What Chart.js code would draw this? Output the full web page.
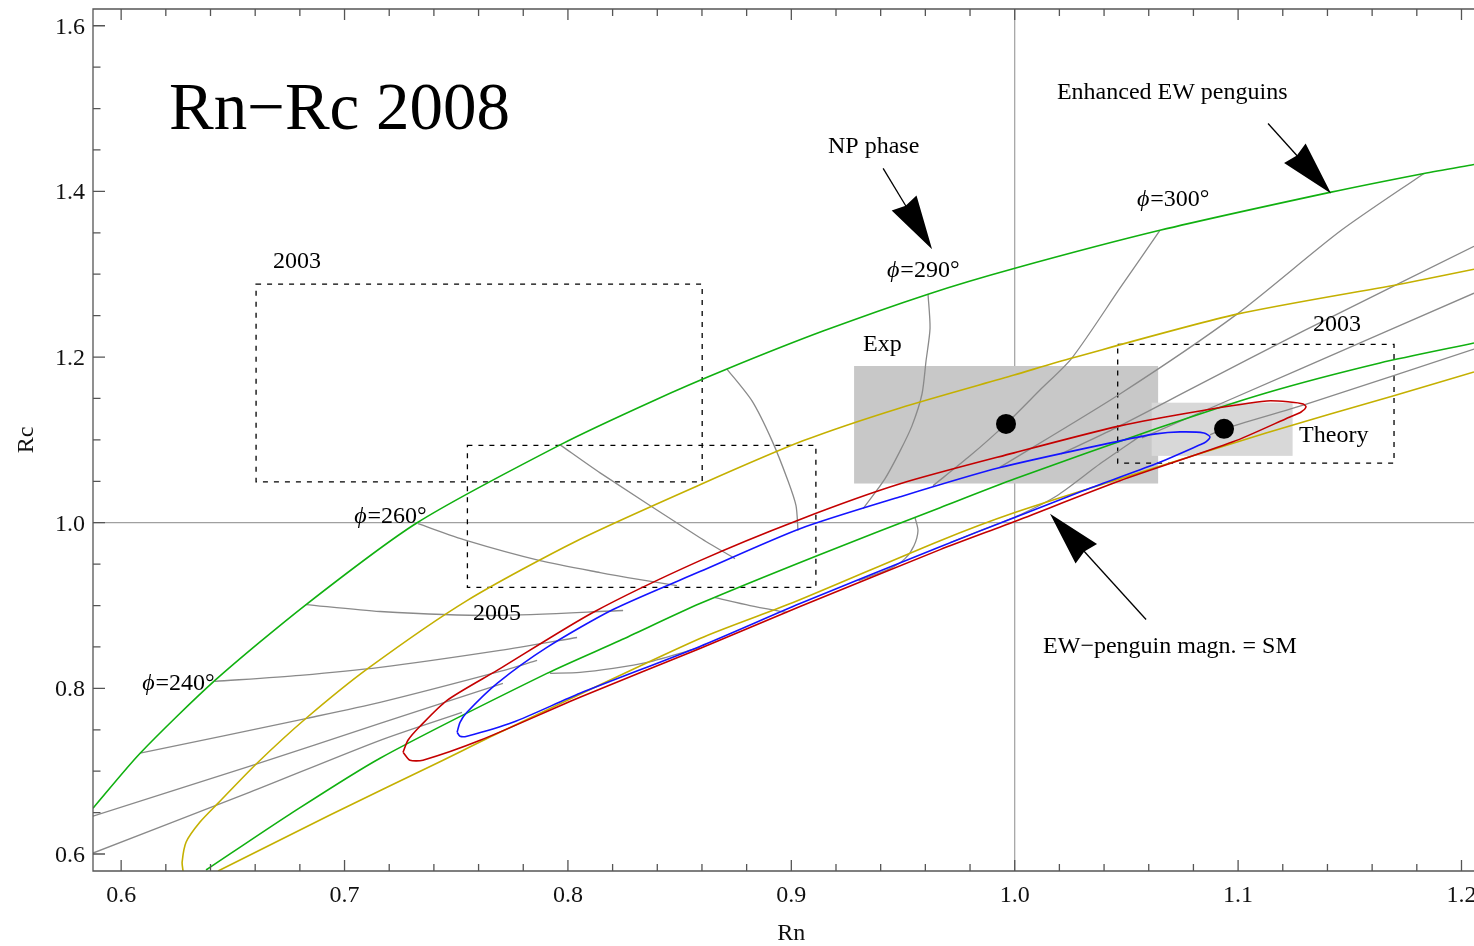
<!DOCTYPE html>
<html>
<head>
<meta charset="utf-8">
<script src="https://cdn.jsdelivr.net/npm/chart.js@4.4.0/dist/chart.umd.min.js"></script>
<style>
  html, body { margin: 0; padding: 0; background: #fff; overflow: hidden; }
  #wrap { width: 1474px; height: 946px; overflow: hidden; }
  canvas { display: block; }
</style>
</head>
<body>
<div id="wrap"><canvas id="chart" width="1474" height="946" style="width:1474px;height:946px"></canvas></div>
<script>
// axis ticks
const xMajorTicks = [0.6, 0.7, 0.8, 0.9, 1.0, 1.1, 1.2];
const xTickLabels = ['0.6', '0.7', '0.8', '0.9', '1.0', '1.1', '1.2'];
const yMajorTicks = [0.6, 0.8, 1.0, 1.2, 1.4, 1.6];
const yTickLabels = ['0.6', '0.8', '1.0', '1.2', '1.4', '1.6'];

// constant-q curves (Rn, Rc)
const greenOuter = [[0.5874,0.6554],[0.6085,0.7217],[0.6420,0.8096],[0.6828,0.9012],[0.7325,1.0000],[0.7965,1.0940],[0.8381,1.1470],[0.8712,1.1855],[0.9142,1.2313],[0.9612,1.2759],[1.0001,1.3072],[1.0650,1.3530],[1.1411,1.3988],[1.1832,1.4217],[1.2056,1.4325]];
const greenInner = [[0.6380,0.5807],[0.6756,0.6482],[0.7159,0.7157],[0.7906,0.8181],[0.8233,0.8578],[0.8591,0.9024],[0.9115,0.9602],[0.9666,1.0181],[1.0001,1.0530],[1.0632,1.1133],[1.1125,1.1566],[1.1635,1.1928],[1.2056,1.2169]];
const yellowOuter = [[0.6277,0.5795],[0.6273,0.5904],[0.6291,0.6145],[0.6353,0.6386],[0.6434,0.6614],[0.6608,0.7096],[0.6828,0.7639],[0.7105,0.8241],[0.7548,0.9060],[0.8041,0.9783],[0.8591,1.0458],[0.9052,1.0988],[0.9487,1.1386],[0.9997,1.1783],[1.0256,1.1988],[1.0995,1.2518],[1.1747,1.2892],[1.2056,1.3060]];
const yellowInner = [[0.6434,0.5795],[0.6935,0.6470],[0.7441,0.7133],[0.7696,0.7470],[0.8591,0.8602],[0.9008,0.9036],[0.9666,0.9783],[0.9997,1.0120],[1.0471,1.0530],[1.1125,1.1084],[1.1693,1.1530],[1.2056,1.1819]];
const redLoop = [[0.7262,0.7229],[0.7284,0.7373],[0.7338,0.7542],[0.7459,0.7855],[0.7683,0.8217],[0.8112,0.8916],[0.8591,0.9542],[0.9039,1.0040],[0.9487,1.0470],[0.9997,1.0843],[1.0471,1.1169],[1.0829,1.1349],[1.1129,1.1470],[1.1232,1.1458],[1.1291,1.1434],[1.1304,1.1398],[1.1282,1.1337],[1.1232,1.1277],[1.0977,1.0976],[1.0471,1.0506],[0.9997,1.0012],[0.9666,0.9675],[0.9039,0.8988],[0.8591,0.8482],[0.8054,0.7892],[0.7607,0.7373],[0.7351,0.7133],[0.7293,0.7133],[0.7262,0.7229]];
const blueLoop = [[0.7504,0.7470],[0.7517,0.7590],[0.7548,0.7711],[0.7683,0.8060],[0.7906,0.8494],[0.8202,0.8952],[0.8591,0.9410],[0.9039,0.9928],[0.9487,1.0313],[0.9930,1.0663],[1.0471,1.0988],[1.0632,1.1072],[1.0740,1.1096],[1.0847,1.1084],[1.0874,1.1036],[1.0856,1.0976],[1.0829,1.0940],[1.0632,1.0711],[1.0306,1.0386],[0.9997,1.0060],[0.9666,0.9711],[0.9039,0.9024],[0.8591,0.8506],[0.8054,0.7940],[0.7754,0.7590],[0.7548,0.7422],[0.7517,0.7422],[0.7504,0.7470]];

// constant-phi curves
const phi240 = [[0.6420,0.8084],[0.6801,0.8157],[0.7159,0.8253],[0.7696,0.8458],[0.8041,0.8614]];
const phiA = [[0.6085,0.7217],[0.6832,0.7639],[0.7159,0.7831],[0.7696,0.8205],[0.7862,0.8337]];
const phiB = [[0.5874,0.6458],[0.6577,0.7060],[0.7159,0.7578],[0.7709,0.8060]];
const phiC = [[0.5874,0.6012],[0.6577,0.6747],[0.7159,0.7373],[0.7526,0.7711]];
const phiD = [[0.6828,0.9012],[0.7159,0.8928],[0.7683,0.8880],[0.8247,0.8940]];
const phi260 = [[0.7329,0.9988],[0.7548,0.9783],[0.7875,0.9542],[0.8144,0.9398],[0.8323,0.9313],[0.8488,0.9241]];
const phiE = [[0.7965,1.0940],[0.8144,1.0602],[0.8591,0.9819],[0.8748,0.9566]];
const phiF = [[0.8712,1.1855],[0.8824,1.1470],[0.8914,1.0988],[0.8985,1.0506],[0.9021,1.0205],[0.9030,0.9904]];
const phi290 = [[0.9612,1.2759],[0.9621,1.2349],[0.9603,1.1952],[0.9585,1.1554],[0.9540,1.1169],[0.9487,1.0867],[0.9419,1.0530],[0.9321,1.0169]];
const phi300 = [[1.0650,1.3530],[1.0471,1.2831],[1.0256,1.1988],[1.0113,1.1602],[0.9961,1.1193],[0.9800,1.0807],[0.9634,1.0446]];
const phiG = [[1.1832,1.4217],[1.1456,1.3518],[1.0995,1.2518],[1.0471,1.1554],[0.9930,1.0663]];
const phiH = [[1.2056,1.3337],[1.1291,1.2313],[1.0798,1.1627],[1.0453,1.1145],[1.0207,1.0831]];
const phiI = [[1.2056,1.2771],[1.1277,1.1855],[1.0570,1.1024]];
const phiJ = [[1.2056,1.2096],[1.1309,1.1434],[1.0937,1.1133],[1.0874,1.1060]];
const phiK = [[1.0570,1.1060],[1.0382,1.0711],[1.0189,1.0325],[1.0024,1.0096],[0.9845,0.9904],[0.9711,0.9759]];
const phiL = [[0.9554,1.0060],[0.9567,0.9904],[0.9549,0.9723],[0.9509,0.9566],[0.9442,0.9446],[0.9301,0.9301]];
const phiM = [[0.8658,0.9096],[0.8815,0.9000],[0.8981,0.8916]];
const phiN = [[0.7920,0.8181],[0.8054,0.8193],[0.8202,0.8241],[0.8354,0.8313],[0.8591,0.8494]];

// boxes [x0, y0, x1, y1] and central values
const box2003a = [0.6604, 1.0494, 0.8601, 1.2880];
const box2005 = [0.7550, 0.9220, 0.9110, 1.0934];
const box2003b = [1.0461, 1.0719, 1.1698, 1.2153];
const expBox = [0.9281, 1.0473, 1.0642, 1.1892];
const theoryBox = [1.0613, 1.0807, 1.1244, 1.1449];
const centralPoints = [[0.9961, 1.1193], [1.0937, 1.1133]];

const SERIF = '"Liberation Serif", "Times New Roman", serif';

const notes = [
  { text: 'Rn\u2212Rc 2008', x: 0.6214, y: 1.4759, size: 67 },
  { text: '2003', x: 0.6680, y: 1.3072 },
  { text: 'NP phase', x: 0.9164, y: 1.4458 },
  { text: '=290°', phi: true, x: 0.9428, y: 1.2964 },
  { text: 'Enhanced EW penguins', x: 1.0189, y: 1.5120 },
  { text: '=300°', phi: true, x: 1.0547, y: 1.3819 },
  { text: 'Exp', x: 0.9321, y: 1.2072 },
  { text: '2003', x: 1.1335, y: 1.2313 },
  { text: 'Theory', x: 1.1273, y: 1.0976 },
  { text: '=260°', phi: true, x: 0.7043, y: 1.0000 },
  { text: '2005', x: 0.7575, y: 0.8831 },
  { text: '=240°', phi: true, x: 0.6094, y: 0.7976 },
  { text: 'EW\u2212penguin magn. = SM', x: 1.0127, y: 0.8422 }
];

const arrows = [
  { from: [0.9411, 1.4277], to: [0.9630, 1.3301] },
  { from: [1.1134, 1.4819], to: [1.1416, 1.3976] },
  { from: [1.0588, 0.8831], to: [1.0158, 1.0108] }
];

function pts(a) { return a.map(p => ({ x: p[0], y: p[1] })); }

function curve(a, color, width) {
  return { data: pts(a), showLine: true, borderColor: color, borderWidth: width,
           pointRadius: 0, fill: false, tension: 0.25 };
}

const GRAY = '#8a8a8a';
const grays = [phi240, phiA, phiB, phiC, phiD, phi260, phiE, phiF, phi290, phi300,
               phiG, phiH, phiI, phiJ, phiK, phiL, phiM, phiN];

const datasets = [
  { data: pts(centralPoints), pointRadius: 10, pointBackgroundColor: '#000',
    pointBorderWidth: 0, showLine: false },
  curve(redLoop, '#c40000', 1.6),
  curve(blueLoop, '#1414ff', 1.6),
  curve(greenOuter, '#10b010', 1.6),
  curve(greenInner, '#10b010', 1.6),
  curve(yellowOuter, '#c4b000', 1.6),
  curve(yellowInner, '#c4b000', 1.6)
].concat(grays.map(g => curve(g, GRAY, 1.3)));

function rectPx(chart, b) {
  const xs = chart.scales.x, ys = chart.scales.y;
  const x0 = xs.getPixelForValue(b[0]), x1 = xs.getPixelForValue(b[2]);
  const y0 = ys.getPixelForValue(b[3]), y1 = ys.getPixelForValue(b[1]);
  return [x0, y0, x1 - x0, y1 - y0];
}

const underlay = {
  id: 'underlay',
  beforeDatasetsDraw(chart) {
    const ctx = chart.ctx, a = chart.chartArea;
    const xs = chart.scales.x, ys = chart.scales.y;
    ctx.save();
    // axes crossing at (1, 1)
    ctx.strokeStyle = '#a0a0a0';
    ctx.lineWidth = 1.2;
    const ax = xs.getPixelForValue(1.0), ay = ys.getPixelForValue(1.0);
    ctx.beginPath();
    ctx.moveTo(ax, a.top); ctx.lineTo(ax, a.bottom);
    ctx.moveTo(a.left, ay); ctx.lineTo(a.right, ay);
    ctx.stroke();
    // shaded regions
    ctx.fillStyle = '#c8c8c8';
    ctx.fillRect(...rectPx(chart, expBox));
    ctx.fillStyle = '#d8d8d8';
    ctx.fillRect(...rectPx(chart, theoryBox));
    // dashed boxes
    ctx.strokeStyle = '#000';
    ctx.lineWidth = 1.3;
    ctx.setLineDash([5, 6]);
    [box2003a, box2005, box2003b].forEach(b => ctx.strokeRect(...rectPx(chart, b)));
    ctx.restore();
  }
};

function drawArrow(ctx, x0, y0, x1, y1) {
  const len = 54, half = 14.5;
  const dx = x1 - x0, dy = y1 - y0, d = Math.hypot(dx, dy);
  const ux = dx / d, uy = dy / d;
  const bx = x1 - ux * len, by = y1 - uy * len;
  ctx.beginPath();
  ctx.moveTo(x0, y0); ctx.lineTo(bx + ux * 4, by + uy * 4);
  ctx.stroke();
  ctx.beginPath();
  ctx.moveTo(x1, y1);
  ctx.lineTo(bx - uy * half, by + ux * half);
  ctx.lineTo(bx + ux * 3, by + uy * 3);
  ctx.lineTo(bx + uy * half, by - ux * half);
  ctx.closePath();
  ctx.fill();
}

const overlay = {
  id: 'overlay',
  afterDatasetsDraw(chart) {
    const ctx = chart.ctx, a = chart.chartArea;
    const xs = chart.scales.x, ys = chart.scales.y;
    ctx.save();
    ctx.fillStyle = '#000';
    ctx.textBaseline = 'alphabetic';
    ctx.textAlign = 'left';
    notes.forEach(n => {
      const px = xs.getPixelForValue(n.x), py = ys.getPixelForValue(n.y);
      const size = n.size || 24;
      let off = 0;
      if (n.phi) {
        ctx.font = 'italic ' + size + 'px ' + SERIF;
        ctx.fillText('\u03d5', px, py);
        off = ctx.measureText('\u03d5').width + 1;
      }
      ctx.font = size + 'px ' + SERIF;
      ctx.fillText(n.text, px + off, py);
    });

    ctx.strokeStyle = '#000';
    ctx.lineWidth = 1.3;
    arrows.forEach(ar => drawArrow(ctx,
      xs.getPixelForValue(ar.from[0]), ys.getPixelForValue(ar.from[1]),
      xs.getPixelForValue(ar.to[0]), ys.getPixelForValue(ar.to[1])));

    // frame
    ctx.strokeStyle = '#555';
    ctx.lineWidth = 1.3;
    ctx.beginPath();
    ctx.moveTo(a.right + 2, a.top); ctx.lineTo(a.left, a.top);
    ctx.lineTo(a.left, a.bottom); ctx.lineTo(a.right + 2, a.bottom);
    ctx.stroke();

    // ticks pointing inward
    ctx.beginPath();
    for (let v = 0.58; v <= 1.2201; v += 0.02) {
      const x = xs.getPixelForValue(v);
      if (x < a.left || x > a.right) continue;
      const major = Math.abs(v * 10 - Math.round(v * 10)) < 1e-6;
      const L = major ? 11 : 7;
      ctx.moveTo(x, a.bottom); ctx.lineTo(x, a.bottom - L);
      ctx.moveTo(x, a.top); ctx.lineTo(x, a.top + L);
    }
    for (let v = 0.55; v <= 1.6501; v += 0.05) {
      const y = ys.getPixelForValue(v);
      if (y < a.top || y > a.bottom) continue;
      const major = Math.abs(v * 5 - Math.round(v * 5)) < 1e-6;
      const L = major ? 12 : 7.5;
      ctx.moveTo(a.left, y); ctx.lineTo(a.left + L, y);
    }
    ctx.stroke();

    // tick labels
    ctx.fillStyle = '#111';
    ctx.font = '24px ' + SERIF;
    ctx.textAlign = 'center';
    xMajorTicks.forEach((v, i) => ctx.fillText(xTickLabels[i], xs.getPixelForValue(v), a.bottom + 31));
    ctx.textAlign = 'right';
    yMajorTicks.forEach((v, i) => ctx.fillText(yTickLabels[i], a.left - 8, ys.getPixelForValue(v) + 8));

    // axis titles
    ctx.textAlign = 'center';
    ctx.fillText('Rn', xs.getPixelForValue(0.9), a.bottom + 69);
    ctx.save();
    ctx.translate(33, ys.getPixelForValue(1.1));
    ctx.rotate(-Math.PI / 2);
    ctx.fillText('Rc', 0, 0);
    ctx.restore();
    ctx.restore();
  }
};

const chart = new Chart(document.getElementById('chart'), {
  type: 'scatter',
  data: { datasets },
  options: {
    responsive: false,
    animation: false,
    devicePixelRatio: 1,
    layout: { autoPadding: false, padding: { left: 93, top: 9, right: 0, bottom: 75 } },
    plugins: { legend: { display: false }, tooltip: { enabled: false } },
    events: [],
    scales: {
      x: { type: 'linear', min: 0.5874, max: 1.2056, display: false },
      y: { type: 'linear', min: 0.5795, max: 1.6202, display: false }
    }
  },
  plugins: [underlay, overlay]
});
</script>
</body>
</html>
